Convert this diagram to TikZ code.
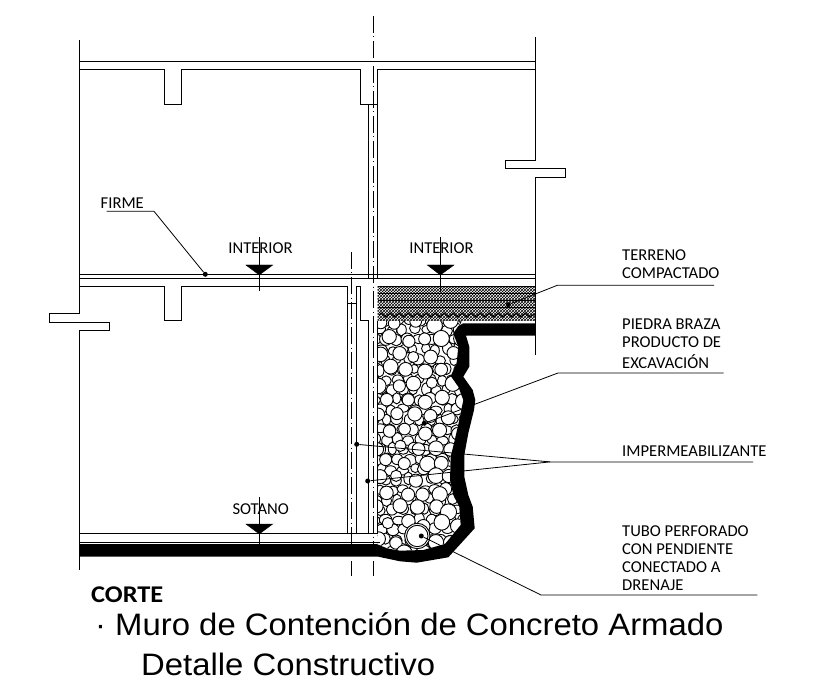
\documentclass[tikz,border=0pt]{standalone}
\usepackage{fontspec}
\setmainfont{Carlito}
\newfontfamily\titlefont[FakeStretch=1.06]{Liberation Sans}
\newfontfamily\cortefont[FakeStretch=1.1]{Carlito}
\usetikzlibrary{patterns,decorations.pathmorphing}
\tikzset{
wall/.style={line width=1.2pt,line join=miter},
thin wall/.style={line width=0.9pt},
axisline/.style={line width=0.8pt,dash pattern=on 17pt off 3.5pt on 1pt off 3.5pt},
leader/.style={line width=0.8pt},
stone/.style={draw,fill=white,line width=0.9pt},
leaderdot/.style={circle,fill=black,inner sep=0pt,minimum size=5pt},
levelmark/.style={fill=black},
label/.style={font=\fontsize{16.6}{18}\selectfont,anchor=base west,align=left,inner sep=0pt},
levellabel/.style={font=\fontsize{16.6}{18}\selectfont,anchor=base,inner sep=0pt}
}
\begin{document}
\begin{tikzpicture}[x=1pt,y=-1pt]
\useasboundingbox (0,0) rectangle (823,698);
\fill[white] (0,0) rectangle (823,698);
\begin{scope}
\clip (377.7,320.7) -- (463,320.7) -- (458.3,326) -- (453.3,333.3) -- (458.3,346.7) -- (456.7,363.3) -- (450.7,376) -- (458.3,386.7) -- (463.3,400) -- (459.3,420) -- (454,443.3) -- (450.7,456.7) -- (450,480) -- (453.3,495) -- (459.3,506.7) -- (460.7,525) -- (445,544) -- (423.3,550) -- (400,550.7) -- (386.7,548.3) -- (377.7,544) -- cycle;
\pgfmathsetseed{23}
\foreach \row in {0,...,24}{
\foreach \col in {0,...,8}{
\pgfmathsetmacro\sx{374+\col*11+mod(\row,2)*5.5+rnd*3}
\pgfmathsetmacro\sy{318+\row*10+rnd*3}
\pgfmathsetmacro\sa{4+rnd*2.5}
\pgfmathsetmacro\sb{4+rnd*2.5}
\draw[stone] (\sx,\sy) circle [x radius=\sa,y radius=\sb];
}}
\foreach \row in {0,...,15}{
\foreach \col in {0,...,5}{
\pgfmathsetmacro\sx{376+\col*18+mod(\row,2)*9+rnd*7}
\pgfmathsetmacro\sy{319+\row*15.5+rnd*7}
\pgfmathsetmacro\sr{5.5+rnd*2.6}
\draw[stone] (\sx,\sy) circle [radius=\sr];
}}
\end{scope}
\draw[stone] (417.3,536) circle [radius=12.7];
\draw[stone] (417.3,536) circle [radius=10.7];
\draw[thin wall] (377.7,320.7) -- (377.7,533.3);
\fill[pattern=crosshatch] (377.7,286.3) rectangle (535.3,320.7);
\draw[thin wall] (377.7,293) -- (535.3,293) (377.7,300.7) -- (535.3,300.7) (377.7,307.7) -- (535.3,307.7);
\draw[line width=1.1pt,decorate,decoration={zigzag,amplitude=2pt,segment length=9pt}] (379,315) -- (535,315);
\fill (535.3,323.3) -- (463.3,323.3) -- (458.3,326) -- (453.3,333.3) -- (458.3,346.7) -- (456.7,363.3) -- (450.7,376) -- (458.3,386.7) -- (463.3,400) -- (459.3,420) -- (454,443.3) -- (450.7,456.7) -- (450,480) -- (453.3,495) -- (459.3,506.7) -- (460.7,525) -- (445,544) -- (423.3,550) -- (400,550.7) -- (386.7,548.3) -- (376.7,544) -- (79.3,544) -- (79.3,556.7) -- (378.3,556.7) -- (400,561.3) -- (416.7,562.7) -- (448.3,557.3) -- (474.7,528.3) -- (472.7,506.7) -- (468.3,495) -- (464.3,476.7) -- (464.3,455) -- (468.3,433.3) -- (474,410) -- (475.3,400) -- (472.7,390) -- (463.3,376.7) -- (469.3,366.7) -- (469.3,346.7) -- (466,335.7) -- (535.3,335.7) -- cycle;
\draw[wall] (79.3,40) -- (79.3,313.3) -- (49.3,313.3) -- (49.3,322.3) -- (109.3,322.3) -- (109.3,330.3) -- (79.3,330.3) -- (79.3,570);
\draw[wall] (535.3,37.3) -- (535.3,160.3) -- (505.3,160.3) -- (505.3,168.3) -- (565.7,168.3) -- (565.7,177.3) -- (535.3,177.3) -- (535.3,355);
\draw[wall] (79.3,61.3) -- (535.3,61.3);
\draw[wall] (79.3,69.3) -- (164.7,69.3) -- (164.7,104.3) -- (181.3,104.3) -- (181.3,69.3) -- (360.7,69.3) -- (360.7,104.3) -- (377.5,104.3) -- (377.5,69.3) -- (535.3,69.3);
\draw[wall] (368.5,104.3) -- (368.5,278.3) (377.5,104.3) -- (377.5,278.3);
\draw[wall] (79.3,274.3) -- (535.3,274.3) (79.3,278.3) -- (535.3,278.3);
\draw[wall] (79.3,286.3) -- (164.7,286.3) -- (164.7,320.3) -- (181.3,320.3) -- (181.3,286.3) -- (347.3,286.3) -- (347.3,533.3);
\draw[wall] (377.7,286.3) -- (535.3,286.3);
\draw[thin wall] (356.3,533.3) -- (356.3,286.3) -- (360.5,286.3) -- (360.5,320.3) -- (368.5,320.3) -- (368.5,533.3);
\draw[thin wall] (347.3,303) -- (356.3,303);
\draw[wall] (79.3,533.3) -- (377.7,533.3);
\draw[thin wall] (79.3,542.3) -- (380,542.3);
\draw[axisline] (373.3,16) -- (373.3,544);
\draw[axisline] (351.5,252) -- (351.5,544);
\draw[line width=0.8pt] (351.5,561) -- (351.5,575.7) (373.3,561) -- (373.3,575.7);
\draw[levelmark] (245.9,265) -- (272.7,265) -- (259.3,275) -- cycle;
\draw[levelmark] (427.3,265) -- (454,265) -- (440.3,275) -- cycle;
\draw[levelmark] (245.9,524) -- (272.7,524) -- (259.3,534) -- cycle;
\draw[leader] (259.3,236.7) -- (259.3,290.7);
\draw[leader] (440.3,236.7) -- (440.3,291.7);
\draw[leader] (259.3,497) -- (259.3,544);
\node[levellabel] (interiorleft) at (260.5,254) {INTERIOR};
\node[levellabel] (interiorright) at (441.5,254) {INTERIOR};
\node[levellabel] (sotano) at (260.7,514) {SOTANO};
\node[label] (firme) at (100.5,209) {FIRME};
\node[label] (terreno) at (622,261) {TERRENO};
\node[label] (compactado) at (622,279) {COMPACTADO};
\node[label] (piedra) at (622,329.3) {PIEDRA BRAZA};
\node[label] (producto) at (622,347.7) {PRODUCTO DE};
\node[label] (excavacion) at (622,368.3) {EXCAVACIÓN};
\node[label] (imper) at (622,456.7) {IMPERMEABILIZANTE};
\node[label] (tubo) at (622,536.7) {TUBO PERFORADO};
\node[label] (pendiente) at (622,554.3) {CON PENDIENTE};
\node[label] (conectado) at (622,572.3) {CONECTADO A};
\node[label] (drenaje) at (622,590.7) {DRENAJE};
\node[leaderdot] (dotfirme) at (205.3,274.3) {};
\node[leaderdot] (dotterreno) at (508.3,304.7) {};
\node[leaderdot] (dotpiedra) at (424.3,423.3) {};
\node[leaderdot] (dotimperleft) at (356.7,444.3) {};
\node[leaderdot] (dotimperright) at (367.7,481) {};
\node[leaderdot] (dottubo) at (421.3,536) {};
\coordinate (kneefirme) at (154,211.3);
\coordinate (endfirme) at (106.7,211.3);
\coordinate (kneeterreno) at (557.3,285.3);
\coordinate (endterreno) at (714,285.3);
\coordinate (kneepiedra) at (558,373);
\coordinate (endpiedra) at (723.7,373);
\coordinate (kneeimper) at (550,461.9);
\coordinate (endimper) at (753,461.9);
\coordinate (kneetubo) at (541,595);
\coordinate (endtubo) at (757.3,595);
\draw[leader] (dotfirme) -- (kneefirme) -- (endfirme);
\draw[leader] (dotterreno) -- (kneeterreno) -- (endterreno);
\draw[leader] (dotpiedra) -- (kneepiedra) -- (endpiedra);
\draw[leader] (dotimperleft) -- (kneeimper) -- (endimper);
\draw[leader] (dotimperright) -- (kneeimper);
\draw[leader] (dottubo) -- (kneetubo) -- (endtubo);
\node[anchor=base west,inner sep=0pt,font=\cortefont\bfseries\fontsize{24}{26}\selectfont] (corte) at (91,602.3) {CORTE};
\node[anchor=base west,inner sep=0pt,font=\titlefont\fontsize{31}{34}\selectfont] (muro) at (95,635.7) {· Muro de Contención de Concreto Armado};
\node[anchor=base west,inner sep=0pt,font=\titlefont\fontsize{31}{34}\selectfont] (detalle) at (141,675.7) {Detalle Constructivo};
\end{tikzpicture}
\end{document}
